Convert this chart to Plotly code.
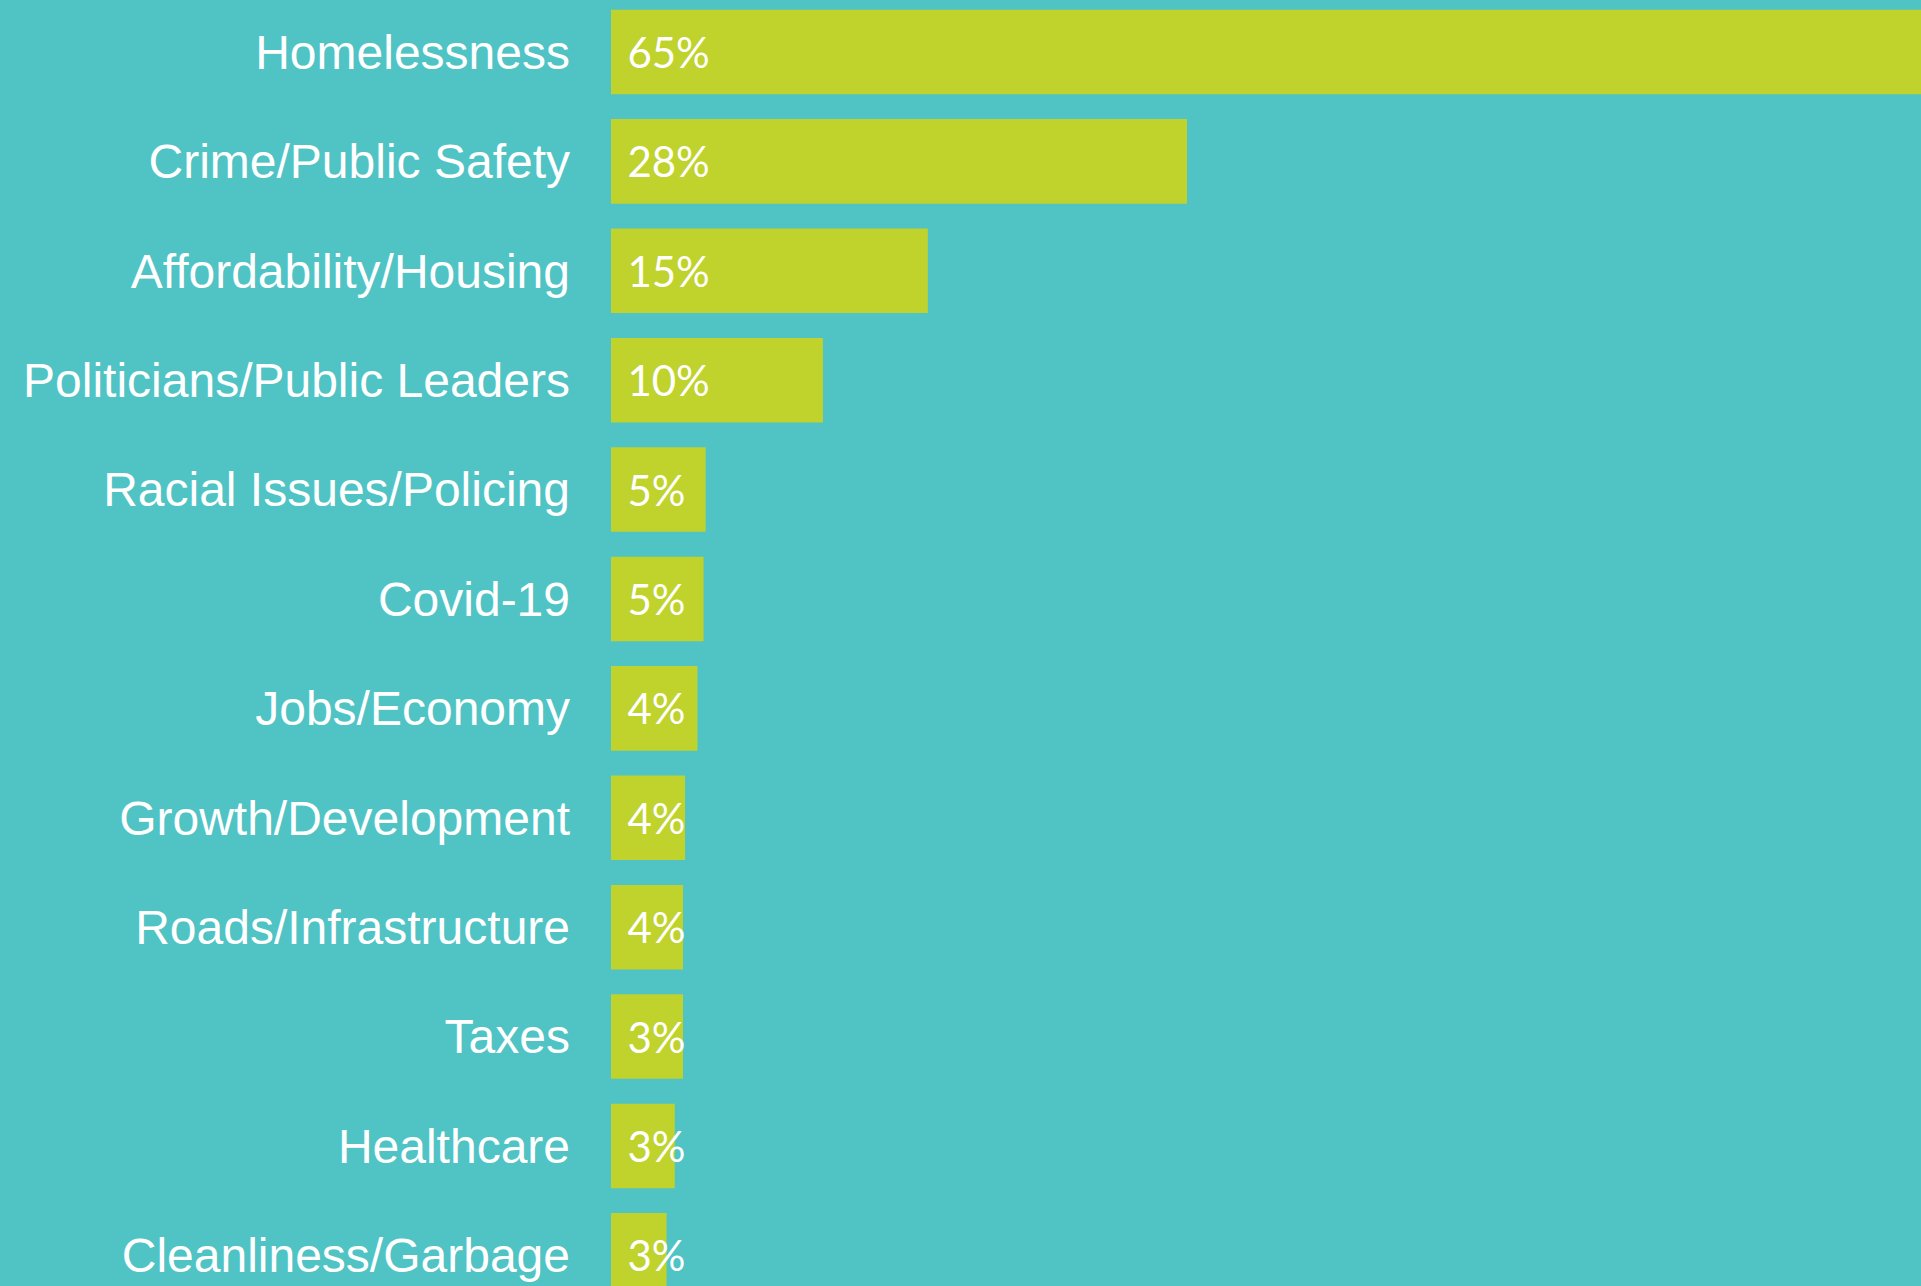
import plotly.graph_objects as go

categories = [
    "Homelessness",
    "Crime/Public Safety",
    "Affordability/Housing",
    "Politicians/Public Leaders",
    "Racial Issues/Policing",
    "Covid-19",
    "Jobs/Economy",
    "Growth/Development",
    "Roads/Infrastructure",
    "Taxes",
    "Healthcare",
    "Cleanliness/Garbage",
]
values = [65, 28, 15.4, 10.3, 4.6, 4.5, 4.2, 3.6, 3.5, 3.5, 3.1, 2.7]
value_labels = ["65%", "28%", "15%", "10%", "5%", "5%", "4%", "4%", "4%", "3%", "3%", "3%"]

BG = "#50c3c5"
BAR = "#c0d22c"

fig = go.Figure(
    go.Bar(
        x=values,
        y=categories,
        orientation="h",
        marker=dict(color=BAR, line=dict(width=0)),
        width=0.773,
        text=["\u00a0\u200a" + t for t in value_labels],
        textposition="inside",
        insidetextanchor="start",
        textangle=0,
        constraintext="none",
        cliponaxis=True,
        textfont=dict(family="Lato", size=42, color="white"),
        hoverinfo="skip",
    )
)

fig.update_layout(
    width=1921,
    height=1286,
    margin=dict(l=611, r=0, t=0, b=0, pad=0),
    paper_bgcolor=BG,
    plot_bgcolor=BG,
    showlegend=False,
    bargap=0.227,
    uniformtext=dict(mode=False),
)
fig.update_xaxes(
    range=[0, 63.68],
    visible=False,
    showgrid=False,
    zeroline=False,
)
fig.update_yaxes(
    type="category",
    categoryorder="array",
    categoryarray=categories,
    range=[11.28, -0.475],
    showgrid=False,
    zeroline=False,
    showline=False,
    ticks="",
    ticklabelstandoff=40,
    tickfont=dict(family="Liberation Sans, Arial", size=48, color="white"),
)

fig.write_html(
    "out.html",
    config={"displayModeBar": False},
    post_script="document.body.style.margin='0';document.body.style.overflow='hidden';document.body.style.background='" + BG + "';",
)
